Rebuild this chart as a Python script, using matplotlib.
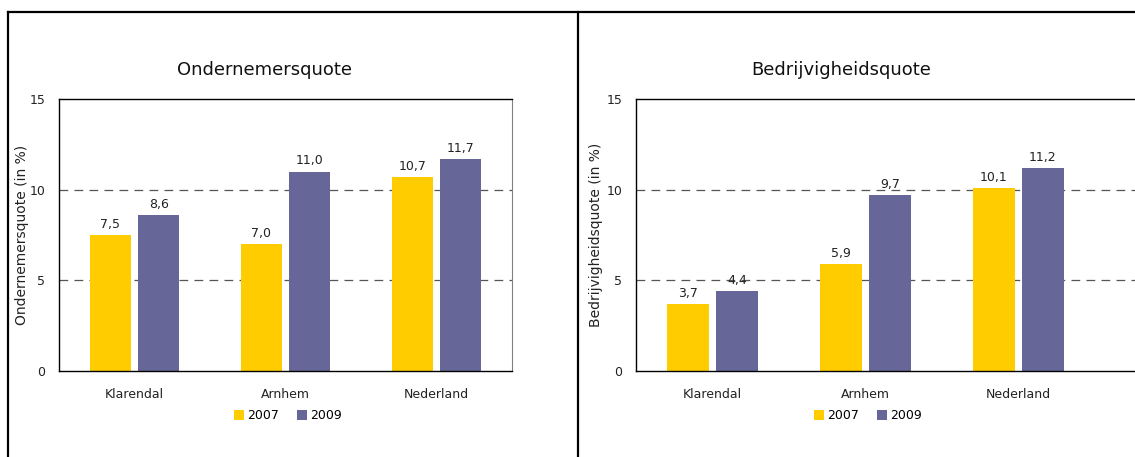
import matplotlib
matplotlib.use('Agg')
import matplotlib.pyplot as plt
import numpy as np
from matplotlib.lines import Line2D

# data
categories = ['Klarendal', 'Arnhem', 'Nederland']
years = ['2007', '2009']
ondernemers_2007 = [7.5, 7.0, 10.7]
ondernemers_2009 = [8.6, 11.0, 11.7]
bedrijvigheid_2007 = [3.7, 5.9, 10.1]
bedrijvigheid_2009 = [4.4, 9.7, 11.2]
y_ticks = [0, 5, 10, 15]

YELLOW = '#FFCC00'
PURPLE = '#666699'
W, H = 1135, 457

plt.rcParams['font.family'] = 'DejaVu Sans'

fig = plt.figure(figsize=(W / 100, H / 100), dpi=100)


def px_axes(left, right, top, bottom):
    return fig.add_axes([left / W, 1 - bottom / H, (right - left) / W, (bottom - top) / H])


def draw_panel(ax, v07, v09, title, ylabel, xlim, title_x, legend_x, ylabel_x):
    x = np.arange(len(categories))
    bw = 0.275
    off = 0.16
    b1 = ax.bar(x - off, v07, bw, color=YELLOW, zorder=2, label=years[0])
    b2 = ax.bar(x + off, v09, bw, color=PURPLE, zorder=2, label=years[1])
    for bars, vals in [(b1, v07), (b2, v09)]:
        for rect, v in zip(bars, vals):
            ax.annotate(f'{v:.1f}'.replace('.', ','),
                        (rect.get_x() + rect.get_width() / 2, v),
                        xytext=(0, 3), textcoords='offset points',
                        ha='center', va='bottom', fontsize=9, color='#222222')
    ax.set_ylim(0, 15)
    ax.set_xlim(*xlim)
    ax.set_yticks(y_ticks)
    ax.set_xticks(x)
    ax.set_xticklabels(categories)
    ax.tick_params(axis='both', length=0, labelsize=9, colors='#222222')
    ax.tick_params(axis='x', pad=12)
    ax.tick_params(axis='y', pad=10)
    for yv in [5, 10]:
        ax.axhline(yv, color='#555555', lw=0.9, ls=(0, (7, 5)), zorder=1)
    for s in ['left', 'bottom', 'top']:
        ax.spines[s].set_color('black')
        ax.spines[s].set_linewidth(1.0)
    ax.spines['right'].set_color('#808080')
    ax.spines['right'].set_linewidth(0.8)
    ax.set_ylabel(ylabel, fontsize=10, color='#222222')
    ax.yaxis.set_label_coords(ylabel_x, 0.5)
    fig.text(title_x / W, 1 - 70 / H, title, ha='center', va='center',
             fontsize=13, color='#111111')
    ax.legend(loc='center', bbox_to_anchor=(legend_x, -0.165), ncol=2, frameon=False,
              fontsize=9, handlelength=0.8, handleheight=0.9,
              handletextpad=0.25, columnspacing=1.5, borderaxespad=0)


ax1 = px_axes(59, 512, 99, 371)
draw_panel(ax1, ondernemers_2007, ondernemers_2009, 'Ondernemersquote',
           'Ondernemersquote (in %)', (-0.5, 2.5), 264, (288 - 59) / (512 - 59),
           (29 - 59) / (512 - 59))

ax2 = px_axes(636, 1140, 99, 371)
draw_panel(ax2, bedrijvigheid_2007, bedrijvigheid_2009, 'Bedrijvigheidsquote',
           'Bedrijvigheidsquote (in %)', (-0.5, -0.5 + (1140 - 636) / 153), 841,
           (868 - 636) / (1140 - 636), (603 - 636) / (1140 - 636))

# panel borders
for xs, ys in [([8 / W, 8 / W], [-0.1, 1 - 12 / H]),
               ([578 / W, 578 / W], [-0.1, 1 - 12 / H]),
               ([8 / W, 1.1], [1 - 12 / H, 1 - 12 / H])]:
    fig.add_artist(Line2D(xs, ys, color='black', lw=1.6, transform=fig.transFigure))

fig.savefig('out.png', dpi=100)
